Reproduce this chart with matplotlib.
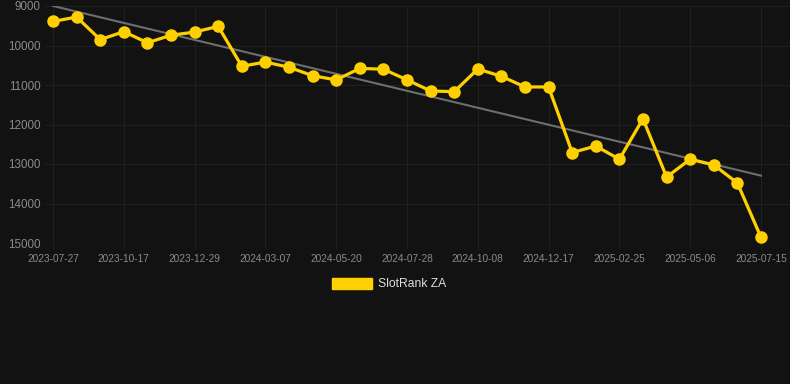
import matplotlib.pyplot as plt
import matplotlib.patches as mpatches
import numpy as np

# Rank history (lower rank number = better, axis inverted)
ranks = [9390, 9280, 9850, 9650, 9930, 9740, 9660, 9515, 10525, 10420,
         10550, 10765, 10870, 10580, 10600, 10870, 11150, 11170, 10595, 10780,
         11050, 11050, 12710, 12545, 12880, 11855, 13330, 12880, 13025, 13480,
         14855]
tick_labels = ["2023-07-27", "2023-10-17", "2023-12-29", "2024-03-07", "2024-05-20",
               "2024-07-28", "2024-10-08", "2024-12-17", "2025-02-25", "2025-05-06",
               "2025-07-15"]
y_ticks = [9000, 10000, 11000, 12000, 13000, 14000, 15000]
series_name = "SlotRank ZA"

bg = "#121212"
gold = "#FFD000"
text_col = "#8a8a8a"
grid_col = "#1f1f1f"

x = np.arange(len(ranks))
slope, intercept = np.polyfit(x, ranks, 1)
trend = slope * x + intercept

fig = plt.figure(figsize=(7.9, 3.84), dpi=100, facecolor=bg)
ax = fig.add_axes([45 / 790, 1 - 243 / 384, 745 / 790, 237 / 384])
ax.set_facecolor(bg)

ax.plot(x, trend, color="#6e6e6e", linewidth=1.5, zorder=2)
ax.plot(x, ranks, color=gold, linewidth=2.3, marker="o", markersize=8,
        markerfacecolor=gold, markeredgecolor=gold, zorder=3)

ax.set_ylim(15000, 9000)
ax.set_xlim(-0.34, 31.23)
ax.set_yticks(y_ticks)
ax.set_yticklabels([str(v) for v in y_ticks], fontfamily="Liberation Sans",
                   fontsize=8.4, color=text_col)
tick_pos = x[::3]
ax.set_xticks(tick_pos)
ax.set_xticklabels(tick_labels, fontfamily="Liberation Sans", fontsize=7.3,
                   color=text_col)
ax.tick_params(axis="y", length=0, pad=3)
ax.tick_params(axis="x", length=4, color="#1f1f1f", pad=4)
ax.grid(True, color=grid_col, linewidth=0.8)
ax.set_axisbelow(True)
for s in ax.spines.values():
    s.set_visible(False)

handle = mpatches.Patch(color=gold, label=series_name)
fig.legend(handles=[handle], loc="center", bbox_to_anchor=(0.493, 1 - 284 / 384),
           frameon=False, prop={"family": "Liberation Sans", "size": 8.7},
           labelcolor="#dddddd", handlelength=3.3, handleheight=1.0,
           handletextpad=0.5)

fig.savefig("out.png", dpi=100, facecolor=bg)
